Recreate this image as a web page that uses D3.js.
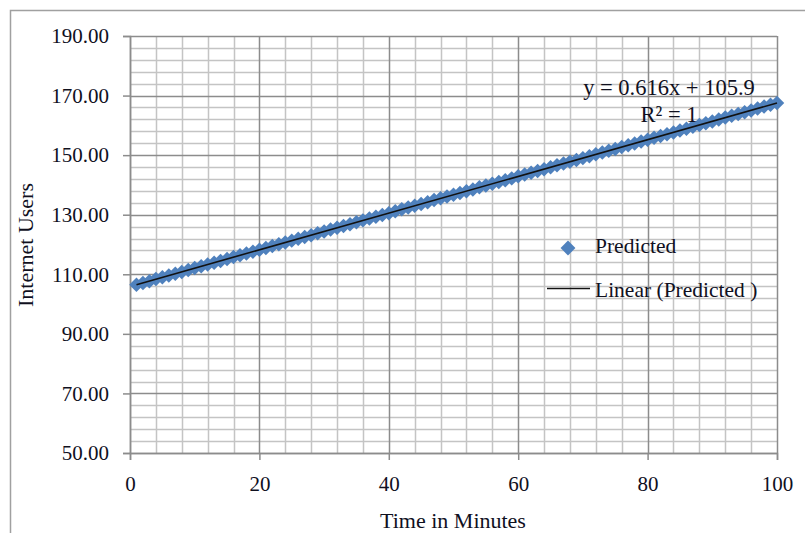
<!DOCTYPE html>
<html>
<head>
<meta charset="utf-8">
<script src="https://cdn.jsdelivr.net/npm/d3@7"></script>
<style>
  body { margin: 0; background: #fff; }
  svg text { font-family: "Liberation Serif", "Times New Roman", serif; fill: #10101e; }
</style>
</head>
<body>
<div id="chart"></div>
<script>
var svgWidth = 805;
var svgHeight = 533;

// minutes 1..100 and the predicted users
var minutes = d3.range(1, 101);
var predicted = [
  106.5, 107.1, 107.7, 108.4, 109.0, 109.6, 110.2, 110.8, 111.4, 112.1,
  112.7, 113.3, 113.9, 114.5, 115.1, 115.8, 116.4, 117.0, 117.6, 118.2,
  118.8, 119.5, 120.1, 120.7, 121.3, 121.9, 122.5, 123.1, 123.8, 124.4,
  125.0, 125.6, 126.2, 126.8, 127.5, 128.1, 128.7, 129.3, 129.9, 130.5,
  131.2, 131.8, 132.4, 133.0, 133.6, 134.2, 134.9, 135.5, 136.1, 136.7,
  137.3, 137.9, 138.5, 139.2, 139.8, 140.4, 141.0, 141.6, 142.2, 142.9,
  143.5, 144.1, 144.7, 145.3, 145.9, 146.6, 147.2, 147.8, 148.4, 149.0,
  149.6, 150.3, 150.9, 151.5, 152.1, 152.7, 153.3, 153.9, 154.6, 155.2,
  155.8, 156.4, 157.0, 157.6, 158.3, 158.9, 159.5, 160.1, 160.7, 161.3,
  162.0, 162.6, 163.2, 163.8, 164.4, 165.0, 165.7, 166.3, 166.9, 167.5
];
var xTicks = [0, 20, 40, 60, 80, 100];
var yTicks = [50, 70, 90, 110, 130, 150, 170, 190];
var equationText = "y = 0.616x + 105.9";
var r2Text = "R² = 1";

var margin = { top: 36, right: 28, bottom: 80, left: 130 };
var width = 777 - margin.left;
var height = 453 - margin.top;

var svg = d3.select("#chart")
    .append("svg")
    .attr("width", svgWidth)
    .attr("height", svgHeight);

// outer chart frame
svg.append("path")
    .attr("d", "M10.5," + svgHeight + "V10.5H" + svgWidth)
    .attr("fill", "none")
    .attr("stroke", "#a0a0a0")
    .attr("stroke-width", 1.5);

var chartGroup = svg.append("g")
    .attr("transform", `translate(${margin.left}, ${margin.top})`);

var x = d3.scaleLinear().domain([0, 100]).range([0, width]);
var y = d3.scaleLinear().domain([50, 190]).range([height, 0]);

// minor gridlines every 4 units
chartGroup.append("g")
    .selectAll("line")
    .data(d3.range(0, 101, 4).filter(d => d % 20 !== 0))
    .enter().append("line")
    .attr("x1", d => Math.round(x(d)) + 0.5).attr("x2", d => Math.round(x(d)) + 0.5)
    .attr("y1", 0).attr("y2", height)
    .attr("stroke", "#c4c4c4").attr("stroke-width", 1.5);

chartGroup.append("g")
    .selectAll("line")
    .data(d3.range(50, 191, 4).filter(d => (d - 50) % 20 !== 0))
    .enter().append("line")
    .attr("y1", d => Math.round(y(d)) + 0.5).attr("y2", d => Math.round(y(d)) + 0.5)
    .attr("x1", 0).attr("x2", width)
    .attr("stroke", "#c4c4c4").attr("stroke-width", 1.5);

// major gridlines
chartGroup.append("g")
    .selectAll("line")
    .data(xTicks)
    .enter().append("line")
    .attr("x1", d => Math.round(x(d)) + 0.5).attr("x2", d => Math.round(x(d)) + 0.5)
    .attr("y1", 0).attr("y2", height)
    .attr("stroke", "#8c8c8c").attr("stroke-width", 1.5);

chartGroup.append("g")
    .selectAll("line")
    .data(yTicks)
    .enter().append("line")
    .attr("y1", d => Math.round(y(d)) + 0.5).attr("y2", d => Math.round(y(d)) + 0.5)
    .attr("x1", 0).attr("x2", width)
    .attr("stroke", "#8c8c8c").attr("stroke-width", 1.5);

// axes
var bottomAxis = d3.axisBottom(x).tickValues(xTicks).tickSize(7).tickPadding(16).tickFormat(d3.format("d"));
var leftAxis = d3.axisLeft(y).tickValues(yTicks).tickSize(7).tickPadding(14).tickFormat(d3.format(".2f"));

var xAxisG = chartGroup.append("g")
    .attr("transform", `translate(0, ${height})`)
    .call(bottomAxis);
var yAxisG = chartGroup.append("g")
    .call(leftAxis);

[xAxisG, yAxisG].forEach(function (g) {
    g.select(".domain").attr("stroke", "#8c8c8c").attr("stroke-width", 1.5);
    g.selectAll(".tick line").attr("stroke", "#8c8c8c").attr("stroke-width", 1.5);
    g.selectAll(".tick text")
        .attr("font-family", "Liberation Serif, Times New Roman, serif")
        .attr("font-size", 21)
        .attr("fill", "#10101e");
});

// trendline from a least squares fit
var n = minutes.length;
var mx = d3.mean(minutes), my = d3.mean(predicted);
var slope = d3.sum(minutes, (d, i) => (d - mx) * (predicted[i] - my)) /
    d3.sum(minutes, d => (d - mx) * (d - mx));
var intercept = my - slope * mx;

// Create markers (diamonds)
var diamond = d3.symbol().type(d3.symbolSquare).size(105);
chartGroup.append("g")
    .selectAll("path")
    .data(minutes)
    .enter().append("path")
    .attr("d", diamond)
    .attr("transform", (d, i) => `translate(${x(d)}, ${y(predicted[i])}) rotate(45)`)
    .attr("fill", "#4f81bd");

var first = minutes[0], last = minutes[n - 1];
chartGroup.append("line")
    .attr("x1", x(first)).attr("y1", y(slope * first + intercept))
    .attr("x2", x(last)).attr("y2", y(slope * last + intercept))
    .attr("stroke", "#111")
    .attr("stroke-width", 1.6);

// equation label
svg.append("text")
    .attr("x", 669).attr("y", 95)
    .attr("text-anchor", "middle")
    .attr("font-size", 22.5)
    .text(equationText);
svg.append("text")
    .attr("x", 669).attr("y", 122)
    .attr("text-anchor", "middle")
    .attr("font-size", 22.5)
    .text(r2Text);

// legend
svg.append("path")
    .attr("d", d3.symbol().type(d3.symbolSquare).size(110))
    .attr("transform", "translate(568, 248) rotate(45)")
    .attr("fill", "#4f81bd");
svg.append("text")
    .attr("x", 595).attr("y", 253)
    .attr("font-size", 21.5)
    .text("Predicted");
svg.append("line")
    .attr("x1", 547).attr("x2", 590)
    .attr("y1", 288.5).attr("y2", 288.5)
    .attr("stroke", "#111").attr("stroke-width", 1.6);
svg.append("text")
    .attr("x", 595).attr("y", 297)
    .attr("font-size", 21.5)
    .text("Linear (Predicted )");

// axis titles
svg.append("text")
    .attr("x", 453).attr("y", 528)
    .attr("text-anchor", "middle")
    .attr("font-size", 22)
    .text("Time in Minutes");
svg.append("text")
    .attr("transform", "translate(33, 245) rotate(-90)")
    .attr("text-anchor", "middle")
    .attr("font-size", 22)
    .text("Internet Users");
</script>
</body>
</html>
